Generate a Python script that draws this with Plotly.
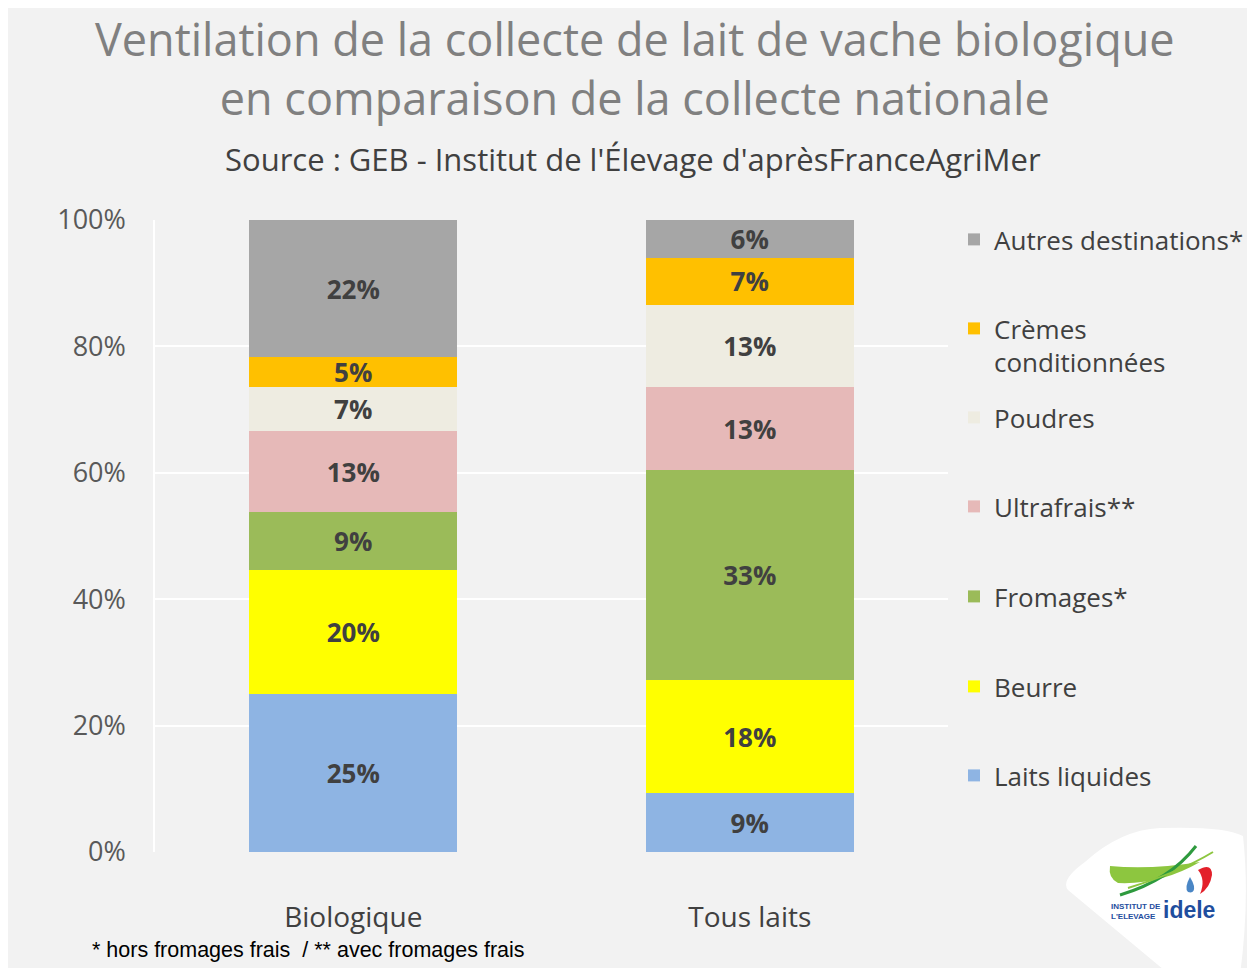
import plotly.graph_objects as go

# ---- data ----
categories = ["Biologique", "Tous laits"]
series_names = ["Laits liquides", "Beurre", "Fromages*", "Ultrafrais**",
                "Poudres", "Crèmes<br>conditionnées", "Autres destinations*"]
laits_liquides = [25.0, 9.3]
beurre = [19.6, 17.9]
fromages = [9.2, 33.2]
ultrafrais = [12.8, 13.1]
poudres = [7.0, 13.1]
cremes = [4.7, 7.4]
autres = [21.7, 6.0]
series_values = [laits_liquides, beurre, fromages, ultrafrais, poudres, cremes, autres]
series_colors = ["#8eb4e3", "#ffff00", "#9bbb59", "#e6b9b8", "#eeece1", "#ffc000", "#a6a6a6"]
y_ticks = [0, 20, 40, 60, 80, 100]
y_ticktext = ["0%", "20%", "40%", "60%", "80%", "100%"]

W, H = 1255, 968
OFF = 8                     # page body margin
# plot area in page pixels (as in the reference)
PL, PR, PT, PB = 155, 948, 220, 852
L, R, T, B = PL - OFF, PR - OFF, PT - OFF, PB - OFF   # in figure pixels

FONT = "'Open Sans', 'Noto Sans', sans-serif"


def fx(xpage):
    return (xpage - PL) / (PR - PL)


def fy(ypage):
    return (PB - ypage) / (PB - PT)


fig = go.Figure()
legend_names = ["legend7", "legend6", "legend5", "legend4", "legend3", "legend2", "legend"]
for name, vals, col, lg in zip(series_names, series_values, series_colors, legend_names):
    fig.add_trace(go.Bar(
        x=categories, y=vals, name=name, marker=dict(color=col, line=dict(width=0)),
        texttemplate="%{y:.0f}%", textposition="inside", insidetextanchor="middle",
        textfont=dict(family=FONT, size=26, color="#404040", weight="bold"),
        legend=lg, hoverinfo="name+y",
    ))

# legend positions (page pixel centres of first line)
legend_pix = {"legend": 239, "legend2": 328, "legend3": 417, "legend4": 506,
              "legend5": 596, "legend6": 686, "legend7": 775}
legend_layout = {}
for lg, ypix in legend_pix.items():
    legend_layout[lg] = dict(
        x=fx(954), xanchor="left",
        y=fy(ypix - 23), yanchor="top",
        bgcolor="rgba(0,0,0,0)", valign="top",
        font=dict(family=FONT, size=26, color="#404040"),
        itemclick=False, itemdoubleclick=False,
    )

fig.update_layout(
    width=W, height=H, autosize=False,
    margin=dict(l=L, r=W - R, t=T, b=H - B, pad=0),
    paper_bgcolor="#f2f2f2", plot_bgcolor="#f2f2f2",
    barmode="stack", bargap=0.475,
    showlegend=True,
    uniformtext=dict(mode="show", minsize=26),
    **legend_layout,
)

fig.update_yaxes(
    range=[0, 100], tickvals=y_ticks, ticktext=y_ticktext,
    showgrid=True, gridcolor="#ffffff", gridwidth=1.5,
    zeroline=False, showline=True, linecolor="#ffffff", linewidth=1.5,
    ticks="", ticklabelstandoff=22,
    tickfont=dict(family=FONT, size=27, color="#595959"),
    fixedrange=True,
)
fig.update_xaxes(
    showgrid=False, zeroline=False, showline=False, ticks="",
    ticklabelstandoff=46,
    tickfont=dict(family=FONT, size=28, color="#404040"),
    fixedrange=True,
)

# title (two lines)
fig.add_annotation(
    text="Ventilation de la collecte de lait de vache biologique<br>en comparaison de la collecte nationale",
    xref="paper", yref="paper", x=fx(635), y=fy(68),
    xanchor="center", yanchor="middle", showarrow=False,
    font=dict(family=FONT, size=45, color="#808080"),
)
# subtitle
fig.add_annotation(
    text="Source : GEB - Institut de l'Élevage d'aprèsFranceAgriMer",
    xref="paper", yref="paper", x=fx(633), y=fy(159),
    xanchor="center", yanchor="middle", showarrow=False,
    font=dict(family=FONT, size=31, color="#404040"),
)
# footnote
fig.add_annotation(
    text="* hors fromages frais  / ** avec fromages frais",
    xref="paper", yref="paper", x=fx(90), y=fy(950),
    xanchor="left", yanchor="middle", showarrow=False,
    font=dict(family="'Liberation Sans', Arial, sans-serif", size=21.5, color="#000000"),
)


def qpath(start, segs):
    s = f"M {fx(start[0]):.5f},{fy(start[1]):.5f}"
    for c, e in segs:
        s += f" Q {fx(c[0]):.5f},{fy(c[1]):.5f} {fx(e[0]):.5f},{fy(e[1]):.5f}"
    return s + " Z"


def qline(start, c, e):
    return "M {:.5f},{:.5f} Q {:.5f},{:.5f} {:.5f},{:.5f}".format(
        fx(start[0]), fy(start[1]), fx(c[0]), fy(c[1]), fx(e[0]), fy(e[1]))


shapes = []
# white blob behind the logo
shapes.append(dict(type="path", xref="paper", yref="paper", layer="above",
                   path=qpath((1068, 890), [((1060, 880), (1085, 862)),
                                            ((1120, 830), (1160, 828)),
                                            ((1225, 826), (1243, 836)),
                                            ((1250, 900), (1240, 975)),
                                            ((1200, 975), (1170, 975)),
                                            ((1110, 925), (1068, 890))]),
                   fillcolor="#ffffff", line=dict(width=0)))
# light green swoosh
shapes.append(dict(type="path", xref="paper", yref="paper", layer="above",
                   path=qpath((1110, 866), [((1150, 870), (1200, 862)),
                                            ((1160, 885), (1118, 883)),
                                            ((1108, 878), (1110, 866))]),
                   fillcolor="#8dc63f", line=dict(width=0)))
# green strokes
shapes.append(dict(type="path", xref="paper", yref="paper", layer="above",
                   path=qline((1196, 846), (1170, 880), (1120, 895)),
                   fillcolor="rgba(0,0,0,0)", line=dict(color="#2e9a3e", width=3)))
shapes.append(dict(type="path", xref="paper", yref="paper", layer="above",
                   path=qline((1213, 852), (1180, 872), (1128, 888)),
                   fillcolor="rgba(0,0,0,0)", line=dict(color="#8dc63f", width=2)))
# red shape
shapes.append(dict(type="path", xref="paper", yref="paper", layer="above",
                   path=qpath((1198, 870), [((1212, 862), (1212, 875)),
                                            ((1210, 888), (1200, 894)),
                                            ((1206, 880), (1198, 870))]),
                   fillcolor="#e3202a", line=dict(width=0)))
# blue drop
shapes.append(dict(type="path", xref="paper", yref="paper", layer="above",
                   path=qpath((1190, 877), [((1184, 888), (1188, 892)),
                                            ((1195, 894), (1194, 886)),
                                            ((1193, 882), (1190, 877))]),
                   fillcolor="#4a86c5", line=dict(width=0)))
fig.update_layout(shapes=shapes)

fig.add_annotation(text="<b>INSTITUT DE<br>L'ELEVAGE</b>", xref="paper", yref="paper",
                   x=fx(1109), y=fy(911), xanchor="left", yanchor="middle", showarrow=False,
                   align="left", font=dict(family="'Liberation Sans', sans-serif",
                                           size=8, color="#1f4e9e"))
fig.add_annotation(text="<b>idele</b>", xref="paper", yref="paper",
                   x=fx(1161), y=fy(910), xanchor="left", yanchor="middle", showarrow=False,
                   font=dict(family="'Liberation Sans', sans-serif",
                             size=23, color="#1f4e9e"))

fig.write_html("out.html")
